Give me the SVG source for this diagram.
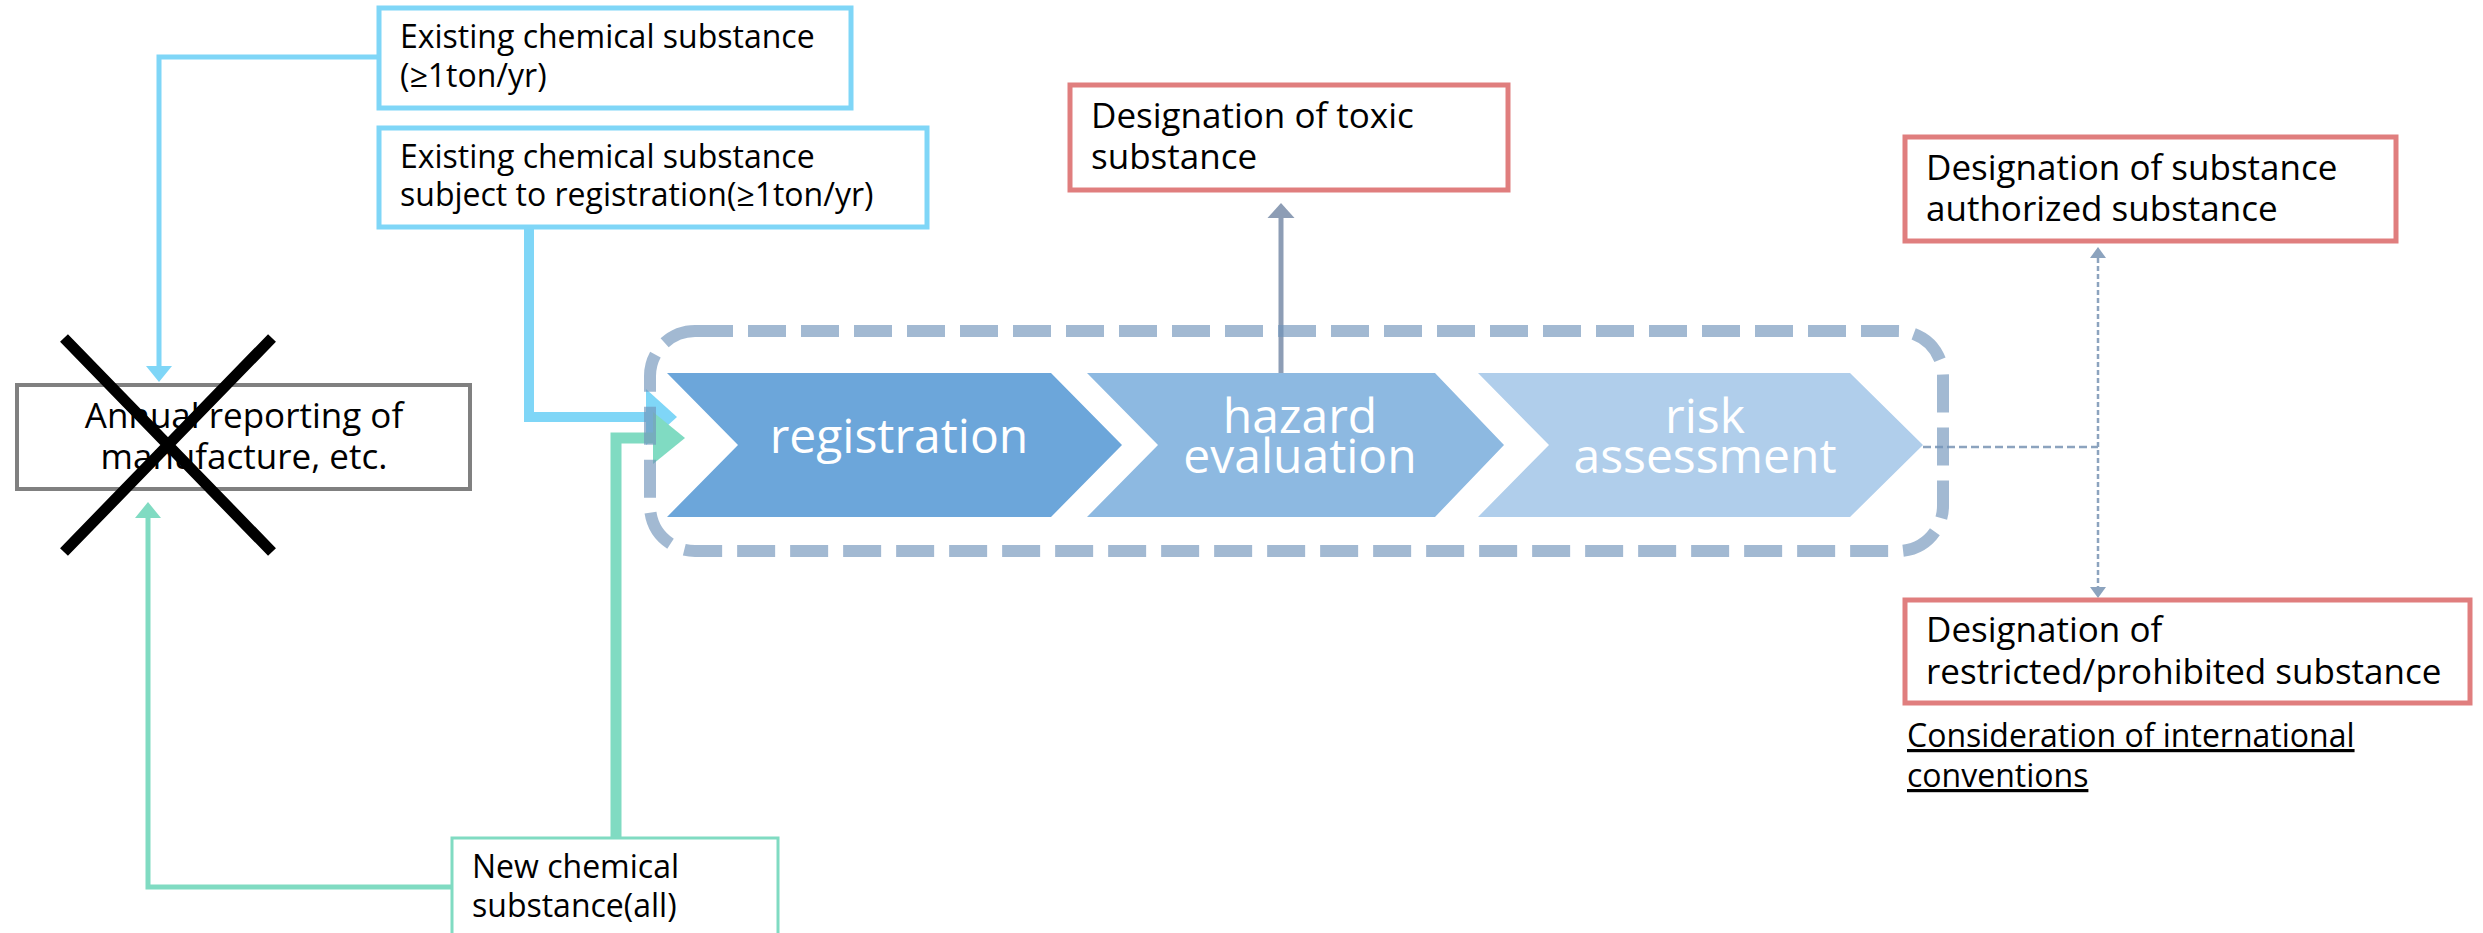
<svg xmlns="http://www.w3.org/2000/svg" width="2483" height="933" viewBox="0 0 2483 933">
<style>
text{font-family:"Open Sans","Noto Sans","DejaVu Sans",sans-serif;fill:#000}
.s{font-size:32px}
.m{font-size:35px}
.w{font-size:48px;fill:#fff;text-anchor:middle}
.bl{fill:#fff;stroke:#7FD6F7;stroke-width:5}
.gr{fill:#fff;stroke:#80DBC2;stroke-width:3}
.rd{fill:#fff;stroke:#E07E7E;stroke-width:5}
.gy{fill:#fff;stroke:#808080;stroke-width:4}
</style>
<defs>
<marker id="aBlueThin" markerUnits="userSpaceOnUse" markerWidth="18" markerHeight="28" refX="0" refY="13" orient="auto" overflow="visible"><path d="M0,0 L16,13 L0,26 Z" fill="#7FD6F7"/></marker>
<marker id="aGreenThin" markerUnits="userSpaceOnUse" markerWidth="18" markerHeight="28" refX="0" refY="13" orient="auto" overflow="visible"><path d="M0,0 L16,13 L0,26 Z" fill="#80DBC2"/></marker>
<marker id="aBlueThick" markerUnits="userSpaceOnUse" markerWidth="32" markerHeight="56" refX="0" refY="28" orient="auto" overflow="visible"><path d="M0,0 L31,28 L0,56 Z" fill="#7FD6F7"/></marker>
<marker id="aGreenThick" markerUnits="userSpaceOnUse" markerWidth="33" markerHeight="52" refX="0" refY="26" orient="auto" overflow="visible"><path d="M0,0 L32,26 L0,52 Z" fill="#80DBC2"/></marker>
<marker id="aGray" markerUnits="userSpaceOnUse" markerWidth="16" markerHeight="28" refX="0" refY="13.5" orient="auto" overflow="visible"><path d="M0,0 L15,13.5 L0,27 Z" fill="#8D9DB5"/></marker>
<marker id="aDash" markerUnits="userSpaceOnUse" markerWidth="12" markerHeight="16" refX="0" refY="8" orient="auto-start-reverse" overflow="visible"><path d="M0,0 L11,8 L0,16 Z" fill="#8CA3BE"/></marker>
</defs>
<rect width="2483" height="933" fill="#fff"/>

<g id="chevrons">
<g id="registration"><polygon points="667,373 1051,373 1122,445 1051,517 667,517 738,445" fill="#6CA6DA"/><text class="w" x="899" y="453">registration</text></g>
<g id="hazard"><polygon points="1087,373 1435,373 1504,445 1435,517 1087,517 1158,445" fill="#8DB9E1"/><text class="w" x="1300" y="433">hazard</text><text class="w" x="1300" y="473">evaluation</text></g>
<g id="risk"><polygon points="1478,373 1850,373 1923,445 1850,517 1478,517 1549,445" fill="#B0CEEB"/><text class="w" x="1705" y="433">risk</text><text class="w" x="1705" y="473">assessment</text></g>
</g>

<g id="connectors" fill="none">
<path d="M379,57 H159 V366" stroke="#7FD6F7" stroke-width="5" marker-end="url(#aBlueThin)"/>
<path d="M452,887 H148 V518" stroke="#80DBC2" stroke-width="5" marker-end="url(#aGreenThin)"/>
<path d="M529,227 V417 H646" stroke="#7FD6F7" stroke-width="10" marker-end="url(#aBlueThick)"/>
<path d="M616,838 V438 H653" stroke="#80DBC2" stroke-width="11" marker-end="url(#aGreenThick)"/>
<path d="M1281,373 V218" stroke="#8D9DB5" stroke-width="5" marker-end="url(#aGray)"/>
<path d="M1923,447 H2098" stroke="#8CA3BE" stroke-width="2.5" stroke-dasharray="8 4"/>
<path d="M2098,258 V587" stroke="#8CA3BE" stroke-width="2.5" stroke-dasharray="5 3" marker-start="url(#aDash)" marker-end="url(#aDash)"/>
</g>

<g id="process-frame"><rect x="650" y="331" width="1293" height="220" rx="45" fill="none" stroke="#7094BA" stroke-opacity="0.65" stroke-width="12" stroke-dasharray="38 15"/></g>

<g id="existing1"><rect class="bl" x="379" y="8" width="472" height="100"/><text class="s" x="400" y="48">Existing chemical substance</text><text class="s" x="400" y="87">(≥1ton/yr)</text></g>
<g id="existing2"><rect class="bl" x="379" y="128" width="548" height="99"/><text class="s" x="400" y="168">Existing chemical substance</text><text class="s" x="400" y="206">subject to registration(≥1ton/yr)</text></g>
<g id="annual"><rect class="gy" x="17" y="385" width="453" height="104"/><text class="m" x="244" y="428" text-anchor="middle">Annual reporting of</text><text class="m" x="244" y="469" text-anchor="middle">manufacture, etc.</text>
<path d="M64,338 L272,552 M272,338 L64,552" stroke="#000" stroke-width="11"/></g>
<g id="newchem"><rect class="gr" x="452" y="838" width="326" height="110"/><text class="s" x="472" y="878">New chemical</text><text class="s" x="472" y="917">substance(all)</text></g>
<g id="toxic"><rect class="rd" x="1070" y="85" width="438" height="105"/><text class="m" x="1091" y="128">Designation of toxic</text><text class="m" x="1091" y="169">substance</text></g>
<g id="authorized"><rect class="rd" x="1905" y="137" width="491" height="104"/><text class="m" x="1926" y="180">Designation of substance</text><text class="m" x="1926" y="221">authorized substance</text></g>
<g id="restricted"><rect class="rd" x="1905" y="600" width="565" height="103"/><text class="m" x="1926" y="642">Designation of</text><text class="m" x="1926" y="684">restricted/prohibited substance</text></g>
<g id="conventions"><text class="s" x="1907" y="747" text-decoration="underline">Consideration of international</text><text class="s" x="1907" y="787" text-decoration="underline">conventions</text></g>
</svg>
